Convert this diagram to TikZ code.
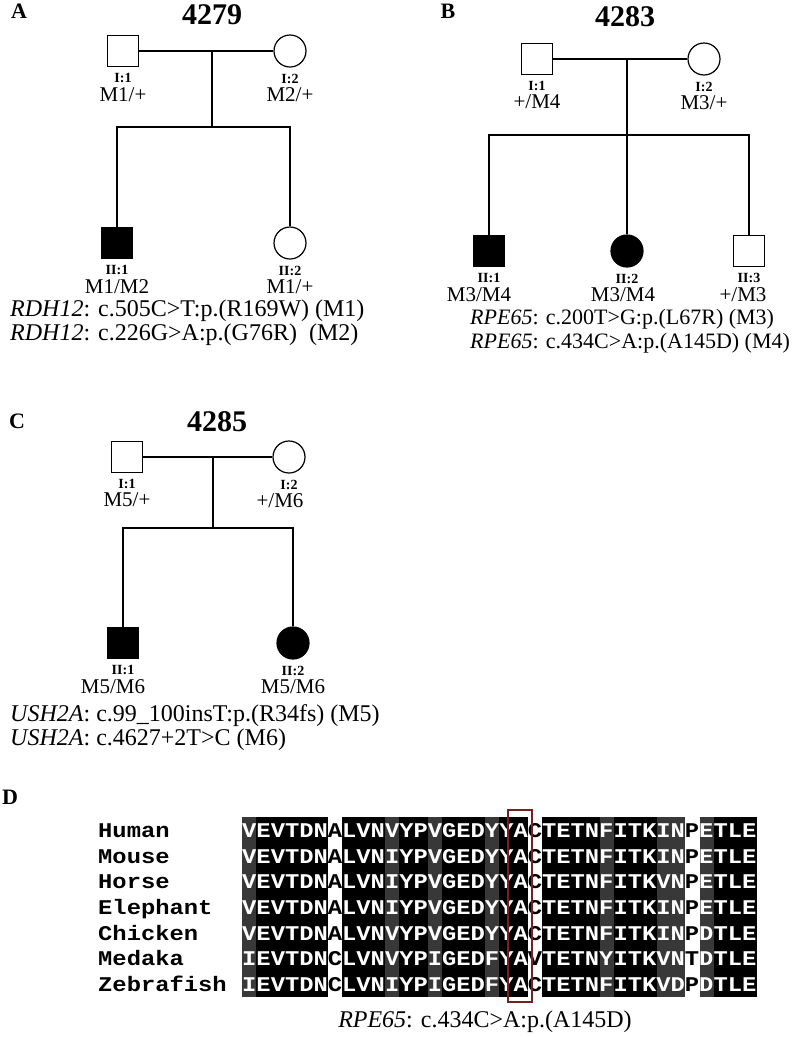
\documentclass[tikz,border=0pt]{standalone}
\usepackage{fontspec}
\setmainfont{Liberation Serif}
\newfontfamily\seqfont{Liberation Mono}
\usetikzlibrary{positioning}

\definecolor{boxred}{HTML}{7A1E1E}
\newcommand{\squash}[1]{\scalebox{1}[0.88]{#1}}
\newcommand{\dk}[1]{\textcolor{black}{#1}}

\begin{document}
\begin{tikzpicture}[x=1pt,y=-1pt]
	\tikzstyle {ped line} = [line width=1.2pt]
	\tikzstyle {male} = [draw, line width=1.2pt, minimum size=31pt, inner sep=0pt, fill=white]
	\tikzstyle {female} = [draw, circle, line width=1.2pt, minimum size=32pt, inner sep=0pt, fill=white]
	\tikzstyle {affected} = [fill=black]
	\tikzstyle {id label} = [inner sep=0pt, font=\fontsize{14}{14}\selectfont\bfseries]
	\tikzstyle {geno} = [inner sep=0pt, font=\fontsize{21}{21}\selectfont]
	\tikzstyle {panel} = [inner sep=0pt, font=\fontsize{22}{22}\selectfont\bfseries]
	\tikzstyle {family} = [inner sep=0pt, font=\fontsize{30}{30}\selectfont\bfseries]
	\tikzstyle {mut} = [anchor=west, inner sep=0pt, font=\fontsize{24}{24}\selectfont]
	\tikzstyle {seq} = [anchor=base west, inner sep=0pt, font=\fontsize{23.8}{23.8}\selectfont\seqfont\bfseries]
	\tikzstyle {cons} = [fill=black!78]
	\tikzstyle {mark box} = [draw=boxred, line width=2pt]

	\useasboundingbox[fill=white] (0,0) rectangle (798,1037);

	% A: family 4279
	\node[panel] (pA) at (19,11) {A};
	\node[family] (fA) at (212,15) {4279};
	\node[male] (aI1) at (123,51) {};
	\node[female] (aI2) at (290,51) {};
	\node[male, affected] (aII1) at (117,243) {};
	\node[female] (aII2) at (290,243) {};
	\coordinate (am) at (212,51);
	\coordinate (as) at (212,127);
	\draw[ped line] (aI1) -- (aI2);
	\draw[ped line] (am) -- (as);
	\draw[ped line] (aII1) |- (as) -| (aII2);

	\node[id label, below=6pt of aI1] (aI1id) {I:1};
	\node[geno, below=4pt of aI1id] (aI1g) {M1/+};
	\node[id label, below=6pt of aI2] (aI2id) {I:2};
	\node[geno, below=4pt of aI2id] (aI2g) {M2/+};
	\node[id label, below=6pt of aII1] (aII1id) {II:1};
	\node[geno, below=4pt of aII1id] (aII1g) {M1/M2};
	\node[id label, below=6pt of aII2] (aII2id) {II:2};
	\node[geno, below=4pt of aII2id] (aII2g) {M1/+};

	\node[mut] (aM1) at (10,311) {\textit{RDH12}: c.505C>T:p.(R169W) (M1)};
	\node[mut] (aM2) at (10,335) {\textit{RDH12}: c.226G>A:p.(G76R)\ \ (M2)};

	% B: family 4283
	\node[panel] (pB) at (448,11) {B};
	\node[family] (fB) at (625,17) {4283};
	\node[male] (bI1) at (537,59) {};
	\node[female] (bI2) at (704,59) {};
	\node[male, affected] (bII1) at (489,251) {};
	\node[female, affected] (bII2) at (627,251) {};
	\node[male] (bII3) at (749,251) {};
	\coordinate (bm) at (627,59);
	\coordinate (bs) at (627,135);
	\draw[ped line] (bI1) -- (bI2);
	\draw[ped line] (bm) -- (bs);
	\draw[ped line] (bII1) |- (bs) -| (bII3);
	\draw[ped line] (bs) -- (bII2);

	\node[id label, below=6pt of bI1] (bI1id) {I:1};
	\node[geno, below=4pt of bI1id] (bI1g) {+/M4};
	\node[id label, below=6pt of bI2] (bI2id) {I:2};
	\node[geno, below=4pt of bI2id] (bI2g) {M3/+};
	\node[id label, below=6pt of bII1] (bII1id) {II:1};
	\node[geno, below=4pt of bII1id, xshift=-10pt] (bII1g) {M3/M4};
	\node[id label, below=6pt of bII2] (bII2id) {II:2};
	\node[geno, below=4pt of bII2id, xshift=-4pt] (bII2g) {M3/M4};
	\node[id label, below=6pt of bII3] (bII3id) {II:3};
	\node[geno, below=4pt of bII3id, xshift=-6pt] (bII3g) {+/M3};

	\node[mut, font=\fontsize{22}{22}\selectfont] (bM3) at (470,319) {\textit{RPE65}: c.200T>G:p.(L67R) (M3)};
	\node[mut, font=\fontsize{22}{22}\selectfont] (bM4) at (470,343) {\textit{RPE65}: c.434C>A:p.(A145D) (M4)};

	% C: family 4285
	\node[panel] (pC) at (17,421) {C};
	\node[family] (fC) at (217,422) {4285};
	\node[male] (cI1) at (127,457) {};
	\node[female] (cI2) at (289,457) {};
	\node[male, affected] (cII1) at (123,643) {};
	\node[female, affected] (cII2) at (293,643) {};
	\coordinate (cm) at (213,457);
	\coordinate (cs) at (213,528);
	\draw[ped line] (cI1) -- (cI2);
	\draw[ped line] (cm) -- (cs);
	\draw[ped line] (cII1) |- (cs) -| (cII2);

	\node[id label, below=6pt of cI1] (cI1id) {I:1};
	\node[geno, below=4pt of cI1id] (cI1g) {M5/+};
	\node[id label, below=6pt of cI2] (cI2id) {I:2};
	\node[geno, below=4pt of cI2id, xshift=-9pt] (cI2g) {+/M6};
	\node[id label, below=6pt of cII1] (cII1id) {II:1};
	\node[geno, below=4pt of cII1id, xshift=-10pt] (cII1g) {M5/M6};
	\node[id label, below=6pt of cII2] (cII2id) {II:2};
	\node[geno, below=4pt of cII2id] (cII2g) {M5/M6};

	\node[mut] (cM5) at (10,716) {\textit{USH2A}: c.99\_100insT:p.(R34fs) (M5)};
	\node[mut] (cM6) at (10,740) {\textit{USH2A}: c.4627+2T>C (M6)};

	% D: RPE65 alignment
	\node[panel] (pD) at (10,797) {D};
	\fill[black] (242,817) rectangle (756.8,997);
	\fill[cons] (242,817) rectangle (256.3,997);
	\fill[cons] (385,817) rectangle (399.3,997);
	\fill[cons] (427.9,817) rectangle (442.2,997);
	\fill[cons] (485.1,817) rectangle (499.4,997);
	\fill[cons] (599.5,817) rectangle (613.8,997);
	\fill[cons] (656.7,817) rectangle (685.3,997);
	\fill[cons] (699.6,817) rectangle (713.9,997);
	\fill[white] (327.8,817) rectangle (342.1,997);
	\fill[white] (528,817) rectangle (542.3,997);
	\fill[white] (685.3,817) rectangle (699.6,997);

	\node[seq] (n1) at (98,837) {\squash{Human}};
	\node[seq] (n2) at (98,863) {\squash{Mouse}};
	\node[seq] (n3) at (98,888) {\squash{Horse}};
	\node[seq] (n4) at (98,914) {\squash{Elephant}};
	\node[seq] (n5) at (98,940) {\squash{Chicken}};
	\node[seq] (n6) at (98,965) {\squash{Medaka}};
	\node[seq] (n7) at (98,991) {\squash{Zebrafish}};

	\node[seq, text=white] (s1) at (242,837) {\squash{VEVTDN\dk{A}LVNVYPVGEDYYA\dk{C}TETNFITKIN\dk{P}ETLE}};
	\node[seq, text=white] (s2) at (242,863) {\squash{VEVTDN\dk{A}LVNIYPVGEDYYA\dk{C}TETNFITKIN\dk{P}ETLE}};
	\node[seq, text=white] (s3) at (242,888) {\squash{VEVTDN\dk{A}LVNIYPVGEDYYA\dk{C}TETNFITKVN\dk{P}ETLE}};
	\node[seq, text=white] (s4) at (242,914) {\squash{VEVTDN\dk{A}LVNIYPVGEDYYA\dk{C}TETNFITKIN\dk{P}ETLE}};
	\node[seq, text=white] (s5) at (242,940) {\squash{VEVTDN\dk{A}LVNVYPVGEDYYA\dk{C}TETNFITKIN\dk{P}DTLE}};
	\node[seq, text=white] (s6) at (242,965) {\squash{IEVTDN\dk{C}LVNVYPIGEDFYA\dk{V}TETNYITKVN\dk{T}DTLE}};
	\node[seq, text=white] (s7) at (242,991) {\squash{IEVTDN\dk{C}LVNIYPIGEDFYA\dk{C}TETNFITKVD\dk{P}DTLE}};

	\draw[mark box] (508,810) rectangle (532,1002);
	\node[mut, anchor=center] (cap) at (485,1022) {\textit{RPE65}: c.434C>A:p.(A145D)};
\end{tikzpicture}
\end{document}
